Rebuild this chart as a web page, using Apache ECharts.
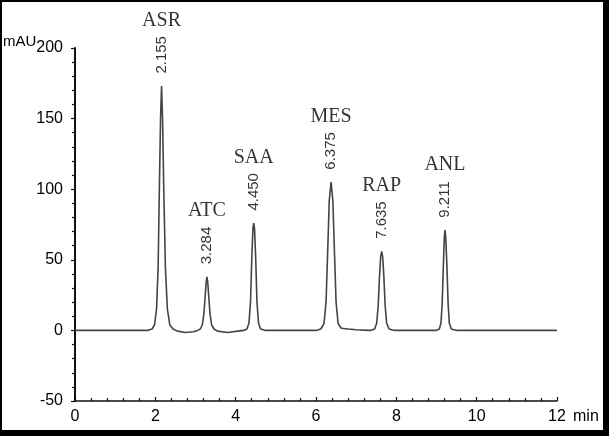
<!DOCTYPE html>
<html>
<head>
<meta charset="utf-8">
<script src="https://cdn.jsdelivr.net/npm/echarts@6/dist/echarts.min.js"></script>
<style>
  html, body { margin: 0; padding: 0; background: #fff; }
  #main { width: 609px; height: 436px; }
</style>
</head>
<body>
<div id="main"></div>
<script>
// peak table
var peakNames = ['ASR', 'ATC', 'SAA', 'MES', 'RAP', 'ANL'];
var peakTimes = [2.155, 3.284, 4.450, 6.375, 7.635, 9.211];
var peakHeights = [173, 38, 76, 105, 56, 71];

// chromatogram trace (min, mAU)
var traceTime = [0, 1.80, 1.92, 1.98, 2.03, 2.07, 2.10, 2.13, 2.155, 2.18, 2.21, 2.25, 2.30, 2.36, 2.44, 2.55, 2.75, 2.95,
  3.05, 3.12, 3.17, 3.21, 3.24, 3.265, 3.284, 3.305, 3.33, 3.36, 3.40, 3.46, 3.55, 3.80, 4.05,
  4.20, 4.28, 4.33, 4.37, 4.40, 4.43, 4.45, 4.47, 4.50, 4.53, 4.57, 4.62, 4.75,
  6.00, 6.12, 6.20, 6.25, 6.29, 6.33, 6.375, 6.42, 6.46, 6.50, 6.55, 6.63, 6.80, 7.00, 7.30,
  7.35, 7.46, 7.51, 7.55, 7.58, 7.61, 7.635, 7.66, 7.69, 7.72, 7.76, 7.82, 7.95,
  9.00, 9.07, 9.11, 9.14, 9.17, 9.195, 9.211, 9.23, 9.26, 9.29, 9.32, 9.37, 9.50, 12];
var traceSignal = [0, 0, 1, 4, 15, 45, 100, 150, 173, 150, 100, 45, 15, 4, 1, -0.5, -1.5, -1,
  0, 1, 4, 12, 24, 34, 38, 34, 24, 12, 4, 1, -0.5, -1.5, -0.5,
  0, 1, 5, 20, 50, 72, 76, 72, 50, 20, 5, 1, 0,
  0, 1, 5, 20, 55, 92, 105, 92, 55, 20, 5, 1.5, 1, 0.5, 0,
  0, 1, 5, 18, 38, 52, 56, 52, 38, 18, 5, 1, 0,
  0, 1, 5, 18, 45, 66, 71, 66, 45, 18, 5, 1, 0, 0];

var xTicks = [0, 2, 4, 6, 8, 10, 12];
var yTicks = [-50, 0, 50, 100, 150, 200];

var chart = echarts.init(document.getElementById('main'));

var trace = traceTime.map(function (t, i) { return [t, traceSignal[i]]; });
var peaks = peakTimes.map(function (t, i) { return { value: [t, peakHeights[i]], name: peakNames[i] }; });

var axisFont = { fontFamily: 'Liberation Sans', fontSize: 16, color: '#000' };

option = {
  animation: false,
  backgroundColor: '#fff',
  grid: { left: 75, right: 52, top: 48, bottom: 35 },
  xAxis: {
    type: 'value',
    min: xTicks[0],
    max: xTicks[xTicks.length - 1],
    interval: 2,
    name: 'min',
    nameLocation: 'end',
    nameGap: 16,
    nameTextStyle: { fontFamily: 'Liberation Sans', fontSize: 16, color: '#000', verticalAlign: 'top', padding: [8, 0, 0, 0] },
    axisLine: { onZero: false, lineStyle: { color: '#111', width: 1.5 } },
    axisTick: { inside: true, length: 4, lineStyle: { color: '#111', width: 1.2 } },
    minorTick: { show: true, splitNumber: 5, length: 3, lineStyle: { color: '#111', width: 1.2 } },
    axisLabel: Object.assign({ margin: 8 }, axisFont),
    splitLine: { show: false }
  },
  yAxis: {
    type: 'value',
    min: yTicks[0],
    max: yTicks[yTicks.length - 1],
    interval: 50,
    axisLine: { show: true, lineStyle: { color: '#111', width: 2 } },
    axisTick: { show: true, inside: false, length: 4, lineStyle: { color: '#111', width: 1.2 } },
    minorTick: { show: true, splitNumber: 5, length: 3, lineStyle: { color: '#111', width: 1.2 } },
    axisLabel: Object.assign({ margin: 12 }, axisFont),
    splitLine: { show: false }
  },
  graphic: [
    { type: 'text', left: 3, top: 34, style: { text: 'mAU', font: '15px "Liberation Sans"', fill: '#000' } },
    // picture frame
    { type: 'rect', shape: { x: 0, y: 0, width: 609, height: 2 }, style: { fill: '#000' } },
    { type: 'rect', shape: { x: 0, y: 0, width: 2, height: 436 }, style: { fill: '#000' } },
    { type: 'rect', shape: { x: 603, y: 0, width: 6, height: 436 }, style: { fill: '#000' } },
    { type: 'rect', shape: { x: 0, y: 430, width: 609, height: 6 }, style: { fill: '#000' } }
  ],
  series: [
    {
      type: 'line',
      data: trace,
      showSymbol: false,
      lineStyle: { color: '#444', width: 1.6 },
      z: 3
    },
    {
      // retention times, rotated above each peak
      type: 'scatter',
      data: peaks,
      symbolSize: 1,
      itemStyle: { color: 'rgba(0,0,0,0)' },
      label: {
        show: true,
        position: 'top',
        distance: 12,
        rotate: 90,
        align: 'left',
        verticalAlign: 'middle',
        fontFamily: 'Liberation Sans',
        fontSize: 15,
        color: '#000',
        formatter: function (p) { return p.value[0].toFixed(3); }
      },
      z: 4
    },
    {
      // compound names
      type: 'scatter',
      data: peaks,
      symbolSize: 1,
      itemStyle: { color: 'rgba(0,0,0,0)' },
      label: {
        show: true,
        position: 'top',
        distance: 55,
        fontFamily: 'Liberation Serif',
        fontSize: 20,
        color: '#000',
        formatter: function (p) { return p.name; }
      },
      z: 4
    }
  ]
};

chart.setOption(option);
</script>
</body>
</html>
